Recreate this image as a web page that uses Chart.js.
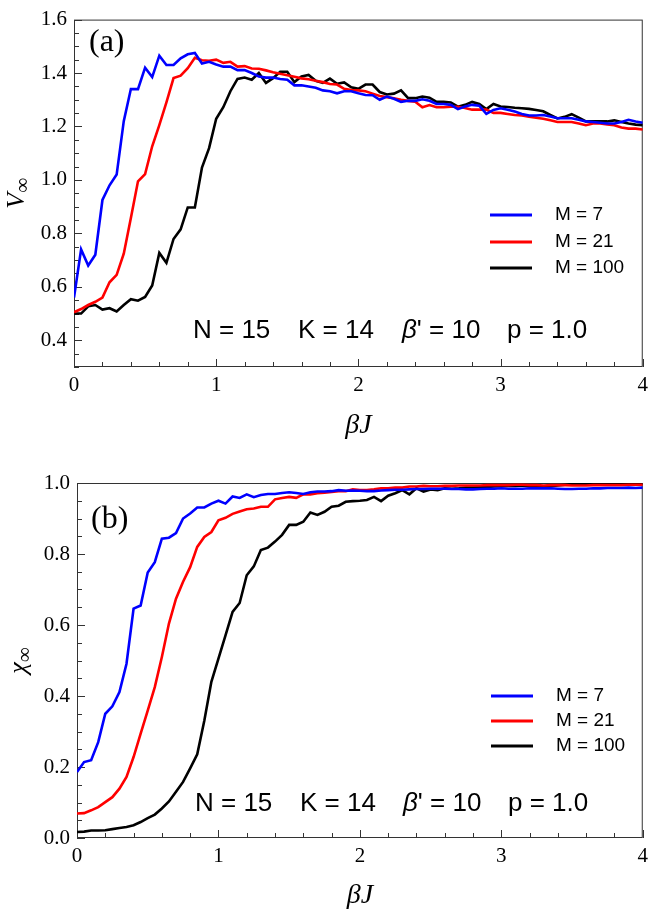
<!DOCTYPE html>
<html>
<head>
<meta charset="utf-8">
<script src="https://cdn.jsdelivr.net/npm/chart.js@4.4.0/dist/chart.umd.min.js"></script>
<style>
  html, body { margin: 0; padding: 0; background: #fff; }
  body { width: 654px; height: 912px; position: relative; overflow: hidden; }
  .panel { position: absolute; left: 0; width: 654px; }
  #panelA { top: 0; height: 450px; }
  #panelB { top: 450px; height: 462px; }
</style>
</head>
<body>
<div class="panel" id="panelA"><canvas id="chartA"></canvas></div>
<div class="panel" id="panelB"><canvas id="chartB"></canvas></div>
<script>
// beta*J sample points (step 0.05)
const betaJ = [
  0, 0.05, 0.1, 0.15, 0.2, 0.25, 0.3, 0.35, 0.4, 0.45,
  0.5, 0.55, 0.6, 0.65, 0.7, 0.75, 0.8, 0.85, 0.9, 0.95,
  1, 1.05, 1.1, 1.15, 1.2, 1.25, 1.3, 1.35, 1.4, 1.45,
  1.5, 1.55, 1.6, 1.65, 1.7, 1.75, 1.8, 1.85, 1.9, 1.95,
  2, 2.05, 2.1, 2.15, 2.2, 2.25, 2.3, 2.35, 2.4, 2.45,
  2.5, 2.55, 2.6, 2.65, 2.7, 2.75, 2.8, 2.85, 2.9, 2.95,
  3, 3.05, 3.1, 3.15, 3.2, 3.25, 3.3, 3.35, 3.4, 3.45,
  3.5, 3.55, 3.6, 3.65, 3.7, 3.75, 3.8, 3.85, 3.9, 3.95,
  4
];

const seriesNames = ['M = 7', 'M = 21', 'M = 100'];
const seriesColors = ['#0000ff', '#ff0000', '#000000'];

// panel (a): V_inf
const vInf7 = [
  0.56, 0.74, 0.68, 0.72, 0.925, 0.98, 1.02, 1.22, 1.34, 1.34,
  1.42, 1.385, 1.465, 1.43, 1.43, 1.455, 1.47, 1.475, 1.436, 1.442,
  1.432, 1.424, 1.424, 1.411, 1.411, 1.40, 1.387, 1.383, 1.383, 1.378,
  1.375, 1.354, 1.354, 1.35, 1.345, 1.335, 1.332, 1.324, 1.332, 1.332,
  1.324, 1.318, 1.317, 1.30, 1.312, 1.304, 1.292, 1.296, 1.296, 1.302,
  1.296, 1.284, 1.284, 1.281, 1.265, 1.275, 1.281, 1.278, 1.247, 1.262,
  1.268, 1.263, 1.256, 1.247, 1.241, 1.241, 1.243, 1.237, 1.231, 1.231,
  1.231, 1.225, 1.219, 1.217, 1.214, 1.211, 1.211, 1.217, 1.225, 1.219,
  1.214
];
const vInf21 = [
  0.505, 0.517, 0.532, 0.544, 0.56, 0.617, 0.645, 0.724, 0.858, 0.995,
  1.022, 1.126, 1.205, 1.29, 1.381, 1.39, 1.418, 1.457, 1.448, 1.446,
  1.45, 1.438, 1.442, 1.424, 1.426, 1.417, 1.416, 1.41, 1.403, 1.397,
  1.392, 1.386, 1.38, 1.377, 1.371, 1.366, 1.359, 1.357, 1.341, 1.336,
  1.335, 1.332, 1.323, 1.314, 1.31, 1.306, 1.30, 1.296, 1.293, 1.272,
  1.28, 1.272, 1.272, 1.274, 1.274, 1.269, 1.263, 1.263, 1.263, 1.251,
  1.251, 1.247, 1.243, 1.241, 1.237, 1.233, 1.229, 1.223, 1.217, 1.217,
  1.217, 1.211, 1.205, 1.211, 1.211, 1.208, 1.205, 1.196, 1.192, 1.192,
  1.189
];
const vInf100 = [
  0.50, 0.50, 0.527, 0.532, 0.515, 0.52, 0.508, 0.532, 0.554, 0.548,
  0.562, 0.605, 0.727, 0.69, 0.779, 0.815, 0.897, 0.897, 1.046, 1.119,
  1.229, 1.272, 1.332, 1.378, 1.383, 1.375, 1.40, 1.363, 1.381, 1.405,
  1.405, 1.366, 1.387, 1.393, 1.371, 1.363, 1.379, 1.36, 1.365, 1.347,
  1.341, 1.357, 1.357, 1.329, 1.32, 1.323, 1.335, 1.306, 1.306, 1.312,
  1.308, 1.292, 1.292, 1.29, 1.274, 1.281, 1.292, 1.284, 1.265, 1.284,
  1.275, 1.273, 1.27, 1.268, 1.266, 1.262, 1.257, 1.243, 1.23, 1.236,
  1.246, 1.233, 1.219, 1.219, 1.219, 1.219, 1.223, 1.217, 1.211, 1.207,
  1.205
];

// panel (b): chi_inf
const chi7 = [
  0.186, 0.214, 0.219, 0.27, 0.35, 0.371, 0.411, 0.491, 0.646, 0.655,
  0.748, 0.777, 0.843, 0.846, 0.859, 0.90, 0.914, 0.931, 0.931, 0.942,
  0.95, 0.942, 0.962, 0.958, 0.968, 0.96, 0.966, 0.969, 0.969, 0.972,
  0.974, 0.972, 0.969, 0.974, 0.976, 0.976, 0.977, 0.98, 0.978, 0.979,
  0.978, 0.977, 0.977, 0.979, 0.98, 0.981, 0.981, 0.982, 0.983, 0.983,
  0.984, 0.984, 0.984, 0.983, 0.983, 0.982, 0.982, 0.983, 0.984, 0.984,
  0.985, 0.984, 0.984, 0.984, 0.985, 0.985, 0.985, 0.985, 0.984, 0.983,
  0.983, 0.984, 0.984, 0.985, 0.985, 0.986, 0.986, 0.986, 0.987, 0.986,
  0.987
];
const chi21 = [
  0.069, 0.07, 0.078, 0.087, 0.101, 0.115, 0.139, 0.172, 0.228, 0.294,
  0.359, 0.425, 0.51, 0.604, 0.674, 0.722, 0.763, 0.82, 0.848, 0.862,
  0.895, 0.902, 0.913, 0.92, 0.926, 0.928, 0.933, 0.933, 0.954, 0.958,
  0.961, 0.958, 0.968, 0.968, 0.971, 0.973, 0.975, 0.977, 0.977, 0.982,
  0.98, 0.98, 0.982, 0.985, 0.985, 0.987, 0.987, 0.99, 0.99, 0.992,
  0.991, 0.991, 0.992, 0.992, 0.993, 0.993, 0.993, 0.993, 0.994, 0.994,
  0.994, 0.994, 0.995, 0.995, 0.994, 0.994, 0.993, 0.994, 0.994, 0.994,
  0.993, 0.993, 0.993, 0.994, 0.994, 0.994, 0.994, 0.994, 0.995, 0.995,
  0.995
];
const chi100 = [
  0.017, 0.018, 0.021, 0.021, 0.022, 0.025, 0.028, 0.031, 0.036, 0.045,
  0.056, 0.066, 0.083, 0.103, 0.13, 0.158, 0.196, 0.236, 0.33, 0.44,
  0.505, 0.571, 0.637, 0.662, 0.74, 0.765, 0.811, 0.818, 0.835, 0.854,
  0.882, 0.882, 0.891, 0.917, 0.91, 0.919, 0.933, 0.936, 0.947, 0.949,
  0.95, 0.952, 0.961, 0.949, 0.964, 0.971, 0.98, 0.968, 0.985, 0.976,
  0.982, 0.98, 0.985, 0.984, 0.985, 0.987, 0.987, 0.988, 0.989, 0.99,
  0.991, 0.992, 0.992, 0.993, 0.991, 0.989, 0.988, 0.991, 0.993, 0.995,
  0.997, 0.997, 0.997, 0.997, 0.997, 0.997, 0.997, 0.997, 0.997, 0.997,
  0.997
];

// tick labels
const xTicks = [0, 1, 2, 3, 4];
const vTicks = [0.4, 0.6, 0.8, 1.0, 1.2, 1.4, 1.6];
const chiTicks = [0.0, 0.2, 0.4, 0.6, 0.8, 1.0];

const paramText = ['N = 15', 'K = 14', "β' = 10", 'p = 1.0'];

const SERIF = "'Liberation Serif', 'Times New Roman', serif";
const SANS = "'Liberation Sans', Arial, sans-serif";
const AXIS_COLOR = '#333';

// frame, inward ticks, legend and text inside the plot
const decor = {
  id: 'decor',
  beforeDatasetsDraw(chart, args, o) {
    const { ctx, chartArea: a, scales: { x, y } } = chart;
    ctx.save();
    ctx.strokeStyle = AXIS_COLOR;
    ctx.lineWidth = 1;
    ctx.strokeRect(a.left + 0.5, a.top + 0.5, a.right - a.left - 1, a.bottom - a.top - 1);
    // x ticks every 0.2, major every 1
    for (let i = 0; i <= 20; i++) {
      const px = Math.round(x.getPixelForValue(i * 0.2)) + 0.5;
      const len = i % 5 === 0 ? 8 : 5;
      ctx.beginPath();
      ctx.moveTo(px, a.bottom);
      ctx.lineTo(px, a.bottom - len);
      ctx.stroke();
    }
    // y ticks every 0.05, major every 0.2
    const k0 = Math.ceil(y.min / 0.05 - 1e-6), k1 = Math.floor(y.max / 0.05 + 1e-6);
    for (let k = k0; k <= k1; k++) {
      const py = Math.round(y.getPixelForValue(k * 0.05)) + 0.5;
      const len = k % 4 === 0 ? 8 : 5;
      ctx.beginPath();
      ctx.moveTo(a.left, py);
      ctx.lineTo(a.left + len, py);
      ctx.stroke();
    }
    ctx.restore();
  },
  afterDraw(chart, args, o) {
    const { ctx, chartArea: a } = chart;
    ctx.save();
    ctx.fillStyle = '#000';

    // legend
    ctx.textBaseline = 'middle';
    ctx.textAlign = 'left';
    ctx.font = `19px ${SANS}`;
    chart.data.datasets.forEach((ds, i) => {
      const ly = o.legend.rows[i];
      ctx.strokeStyle = ds.borderColor;
      ctx.lineWidth = 3;
      ctx.beginPath();
      ctx.moveTo(o.legend.x1, ly);
      ctx.lineTo(o.legend.x2, ly);
      ctx.stroke();
      ctx.fillText(ds.label, o.legend.textX, ly);
    });

    // parameter line
    ctx.textBaseline = 'alphabetic';
    paramText.forEach((t, i) => {
      const px = o.params.x[i];
      if (t.startsWith('β')) {
        ctx.font = `italic 26px ${SANS}`;
        ctx.fillText('β', px, o.params.y);
        const w = ctx.measureText('β').width;
        ctx.font = `26px ${SANS}`;
        ctx.fillText(t.slice(1), px + w, o.params.y);
      } else {
        ctx.font = `26px ${SANS}`;
        ctx.fillText(t, px, o.params.y);
      }
    });

    // panel label
    ctx.font = `32px ${SERIF}`;
    ctx.textBaseline = 'middle';
    ctx.fillText(o.panel.text, o.panel.x, o.panel.y);

    // y title with subscript, rotated
    const cy = (a.top + a.bottom) / 2;
    ctx.translate(o.yTitle.x, cy);
    ctx.rotate(-Math.PI / 2);
    ctx.textBaseline = 'alphabetic';
    ctx.font = `italic 26px ${SERIF}`;
    const wMain = ctx.measureText(o.yTitle.main).width;
    ctx.font = `21px ${SERIF}`;
    const wSub = ctx.measureText(o.yTitle.sub).width;
    const sx = -(wMain + wSub) / 2;
    ctx.font = `italic 26px ${SERIF}`;
    ctx.fillText(o.yTitle.main, sx, 0);
    ctx.font = `21px ${SERIF}`;
    ctx.fillText(o.yTitle.sub, sx + wMain, 5);
    ctx.restore();
  }
};

function makePanel(canvasId, series, yTickList, yMin, yMax, layout) {
  const datasets = series.map((vals, i) => ({
    label: seriesNames[i],
    data: betaJ.map((b, j) => ({ x: b, y: vals[j] })),
    borderColor: seriesColors[i],
    borderWidth: 2.6,
    pointRadius: 0,
    tension: 0,
    fill: false
  }));

  return new Chart(document.getElementById(canvasId), {
    type: 'line',
    data: { datasets },
    plugins: [decor],
    options: {
      responsive: true,
      maintainAspectRatio: false,
      animation: false,
      devicePixelRatio: 1,
      layout: { padding: { top: layout.padTop, right: 1, bottom: 0, left: 0 } },
      plugins: {
        legend: { display: false },
        tooltip: { enabled: false },
        decor: layout.decor
      },
      scales: {
        x: {
          type: 'linear',
          min: 0,
          max: 4,
          grid: { display: false, drawTicks: false },
          border: { display: false },
          afterBuildTicks: (s) => { s.ticks = xTicks.map(v => ({ value: v })); },
          afterFit: (s) => { s.height = layout.xHeight; },
          ticks: {
            padding: 6,
            color: '#000',
            font: { family: SERIF, size: 21 },
            callback: (v) => String(v)
          },
          title: {
            display: true,
            text: 'βJ',
            color: '#000',
            font: { family: SERIF, size: 28, style: 'italic' },
            padding: { top: 0, bottom: layout.xTitlePad }
          }
        },
        y: {
          type: 'linear',
          min: yMin,
          max: yMax,
          grid: { display: false, drawTicks: false },
          border: { display: false },
          afterBuildTicks: (s) => { s.ticks = yTickList.map(v => ({ value: v })); },
          afterFit: (s) => { s.width = layout.yWidth; },
          ticks: {
            padding: 7,
            color: '#000',
            font: { family: SERIF, size: 21 },
            callback: (v) => Number(v).toFixed(1)
          }
        }
      }
    }
  });
}

makePanel('chartA', [vInf7, vInf21, vInf100], vTicks, 0.3, 1.6, {
  padTop: 10,
  xHeight: 83,
  yWidth: 74,
  xTitlePad: 8,
  decor: {
    legend: { x1: 490, x2: 532, textX: 555, rows: [215, 242, 268] },
    params: { x: [193, 298, 402, 507], y: 338 },
    panel: { text: '(a)', x: 89, y: 43 },
    yTitle: { main: 'V', sub: '∞', x: 24 }
  }
});

makePanel('chartB', [chi7, chi21, chi100], chiTicks, 0, 1.0, {
  padTop: 33,
  xHeight: 74,
  yWidth: 77,
  xTitlePad: 0,
  decor: {
    legend: { x1: 491, x2: 533, textX: 556, rows: [246, 271, 296] },
    params: { x: [195, 300, 403, 508], y: 361 },
    panel: { text: '(b)', x: 91, y: 70 },
    yTitle: { main: 'χ', sub: '∞', x: 26 }
  }
});
</script>
</body>
</html>
